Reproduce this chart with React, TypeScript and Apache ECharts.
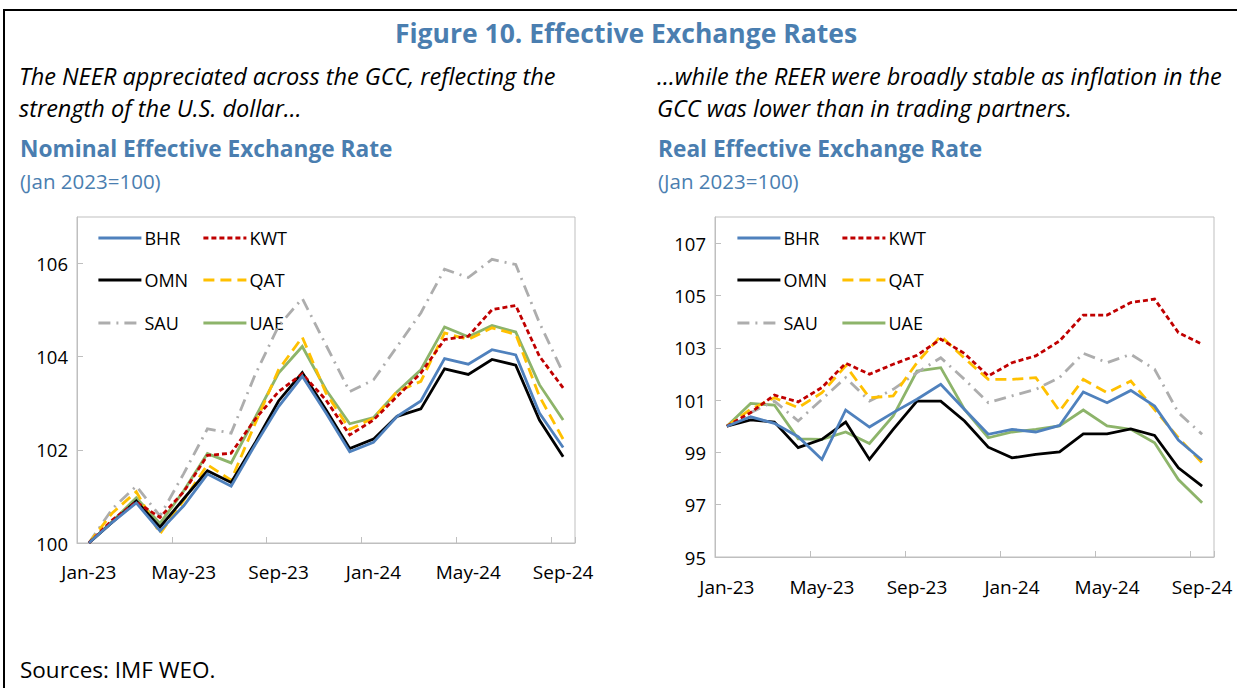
import React, { useEffect, useRef } from 'react';
import * as echarts from 'echarts';

const months = [
  'Jan-23', 'Feb-23', 'Mar-23', 'Apr-23', 'May-23', 'Jun-23', 'Jul-23', 'Aug-23', 'Sep-23', 'Oct-23', 'Nov-23', 'Dec-23',
  'Jan-24', 'Feb-24', 'Mar-24', 'Apr-24', 'May-24', 'Jun-24', 'Jul-24', 'Aug-24', 'Sep-24',
];

const countries = ['BHR', 'KWT', 'OMN', 'QAT', 'SAU', 'UAE'];

// Nominal effective exchange rate (Jan 2023 = 100)
const neerBHR = [100, 100.45, 100.86, 100.26, 100.8, 101.48, 101.22, 102.1, 102.93, 103.58, 102.79, 101.96, 102.16, 102.72, 103.05, 103.96, 103.84, 104.15, 104.04, 102.79, 102.05];
const neerKWT = [100, 100.5, 100.88, 100.55, 101.1, 101.88, 101.93, 102.65, 103.25, 103.63, 103.07, 102.32, 102.64, 103.15, 103.65, 104.37, 104.44, 105.01, 105.1, 104.01, 103.33];
const neerOMN = [100, 100.45, 100.9, 100.34, 100.95, 101.55, 101.3, 102.14, 103.05, 103.66, 102.86, 102.03, 102.23, 102.72, 102.88, 103.74, 103.62, 103.94, 103.82, 102.64, 101.85];
const neerQAT = [100, 100.65, 101.1, 100.2, 100.92, 101.68, 101.35, 102.55, 103.72, 104.42, 103.22, 102.44, 102.68, 103.25, 103.47, 104.51, 104.37, 104.62, 104.48, 103.15, 102.23];
const neerSAU = [100, 100.74, 101.22, 100.58, 101.49, 102.45, 102.36, 103.6, 104.66, 105.25, 104.25, 103.25, 103.5, 104.22, 104.94, 105.88, 105.7, 106.09, 105.98, 104.73, 103.65];
const neerUAE = [100, 100.47, 100.97, 100.42, 101.12, 101.92, 101.72, 102.68, 103.65, 104.22, 103.29, 102.56, 102.69, 103.25, 103.72, 104.64, 104.43, 104.67, 104.53, 103.4, 102.64];

// Real effective exchange rate (Jan 2023 = 100)
const reerBHR = [100, 100.36, 100.11, 99.6, 98.73, 100.62, 99.97, 100.52, 101.03, 101.6, 100.64, 99.69, 99.88, 99.78, 100.03, 101.31, 100.9, 101.37, 100.77, 99.47, 98.7];
const reerKWT = [100, 100.52, 101.19, 100.93, 101.48, 102.41, 101.99, 102.37, 102.71, 103.33, 102.78, 101.92, 102.43, 102.69, 103.26, 104.25, 104.25, 104.73, 104.86, 103.58, 103.14];
const reerOMN = [100, 100.24, 100.16, 99.18, 99.5, 100.16, 98.73, 99.88, 100.96, 100.96, 100.2, 99.2, 98.79, 98.92, 99.02, 99.71, 99.71, 99.9, 99.65, 98.41, 97.71];
const reerQAT = [100, 100.65, 101.09, 100.71, 101.28, 102.31, 101.09, 101.16, 102.43, 103.45, 102.6, 101.79, 101.79, 101.86, 100.58, 101.79, 101.28, 101.73, 100.64, 99.56, 98.6];
const reerSAU = [100, 100.52, 100.96, 100.2, 101.03, 101.86, 100.96, 101.41, 102.05, 102.62, 101.79, 100.9, 101.16, 101.41, 101.86, 102.79, 102.43, 102.75, 102.18, 100.52, 99.69];
const reerUAE = [100, 100.87, 100.81, 99.52, 99.5, 99.78, 99.34, 100.39, 102.11, 102.24, 100.64, 99.56, 99.78, 99.88, 100.01, 100.62, 100.01, 99.88, 99.37, 97.96, 97.07];

const neerData = [neerBHR, neerKWT, neerOMN, neerQAT, neerSAU, neerUAE];
const reerData = [reerBHR, reerKWT, reerOMN, reerQAT, reerSAU, reerUAE];

const neerTicks = { min: 100, max: 107, interval: 2 };
const reerTicks = { min: 95, max: 108, interval: 2 };

const titleText = 'Figure 10. Effective Exchange Rates';
const leftNote = ['The NEER appreciated across the GCC, reflecting the', 'strength of the U.S. dollar…'];
const rightNote = ['…while the REER were broadly stable as inflation in the', 'GCC was lower than in trading partners.'];
const leftTitle = 'Nominal Effective Exchange Rate';
const rightTitle = 'Real Effective Exchange Rate';
const unitText = '(Jan 2023=100)';
const sourceText = 'Sources: IMF WEO.';

const FONT = "'Open Sans', 'Noto Sans', sans-serif";
const BLUE = '#4A7EB0';
const AXIS = '#BFBFBF';
const LINE_W = 2.8;

const styles: Record<string, { color: string; type: any }> = {
  BHR: { color: '#4F81BD', type: 'solid' },
  KWT: { color: '#C00000', type: [5, 3] },
  OMN: { color: '#000000', type: 'solid' },
  QAT: { color: '#FFC000', type: [11, 6] },
  SAU: { color: '#ADADAD', type: [12, 6, 2, 6] },
  UAE: { color: '#8DB46A', type: 'solid' },
};

export default function App() {
  const ref = useRef<HTMLDivElement>(null);
  useEffect(() => {
    document.body.style.margin = '0';
    const chart = echarts.init(ref.current!, null, { renderer: 'svg' });

    const grids = [
      { left: 77, top: 217, width: 498, height: 326 },
      { left: 715, top: 217, width: 499, height: 340 },
    ];
    const ticks = [neerTicks, reerTicks];
    const datasets = [neerData, reerData];
    const labelMargins = [19, 20];

    const series: any[] = [];
    datasets.forEach((ds, g) => {
      ds.forEach((vals, k) => {
        const name = countries[k];
        series.push({
          type: 'line',
          name,
          xAxisIndex: g,
          yAxisIndex: g,
          data: vals,
          symbol: 'none',
          lineStyle: { color: styles[name].color, width: LINE_W, type: styles[name].type, cap: 'butt', join: 'miter' },
          itemStyle: { color: styles[name].color },
          z: 10 - k,
        });
      });
    });

    const legends: any[] = [];
    const legendCols = [[97, 202], [736, 841]];
    const legendRows = [239, 281, 324];
    legendCols.forEach((cols) => {
      countries.forEach((c, k) => {
        legends.push({
          data: [c],
          left: cols[k % 2],
          top: legendRows[Math.floor(k / 2)] - 10,
          padding: 0,
          itemWidth: 43,
          itemHeight: 14,
          selectedMode: false,
          itemStyle: { opacity: 0 },
          lineStyle: { width: LINE_W },
          textStyle: { fontSize: 18, color: '#000', fontFamily: FONT, padding: [0, 0, 0, -2] },
        });
      });
    });

    const txt = (text: string, x: number, y: number, font: string, fill: string, align = 'left') => ({
      type: 'text',
      x,
      y,
      style: { text, font, fill, textAlign: align, textVerticalAlign: 'middle' },
    });

    const graphic: any[] = [
      {
        type: 'rect',
        shape: { x: 4, y: 10, width: 1260, height: 700 },
        style: { fill: 'none', stroke: '#000', lineWidth: 2 },
      },
      txt(titleText, 626, 33, `bold 26.5px ${FONT}`, BLUE, 'center'),
      txt(leftNote[0], 19, 76, `italic 23.5px ${FONT}`, '#000'),
      txt(leftNote[1], 19, 108, `italic 23.5px ${FONT}`, '#000'),
      txt(rightNote[0], 657, 76, `italic 23.5px ${FONT}`, '#000'),
      txt(rightNote[1], 657, 108, `italic 23.5px ${FONT}`, '#000'),
      txt(leftTitle, 20, 148, `bold 22.7px ${FONT}`, BLUE),
      txt(rightTitle, 658, 148, `bold 22.7px ${FONT}`, BLUE),
      txt(unitText, 20, 181, `20.5px ${FONT}`, BLUE),
      txt(unitText, 658, 181, `20.5px ${FONT}`, BLUE),
      txt(sourceText, 20, 669, `22.5px ${FONT}`, '#000'),
    ];

    chart.setOption({
      animation: false,
      backgroundColor: '#fff',
      grid: grids.map((g) => ({ ...g, show: true, borderColor: AXIS, borderWidth: 1, backgroundColor: 'transparent' })),
      xAxis: grids.map((_, g) => ({
        type: 'category',
        gridIndex: g,
        data: months,
        boundaryGap: true,
        axisLine: { show: true, lineStyle: { color: AXIS, width: 1 } },
        axisTick: { show: true, inside: true, interval: 3, length: 6, lineStyle: { color: AXIS } },
        axisLabel: { interval: 3, color: '#000', fontSize: 19, fontFamily: FONT, margin: labelMargins[g] },
        splitLine: { show: false },
      })),
      yAxis: grids.map((_, g) => ({
        type: 'value',
        gridIndex: g,
        min: ticks[g].min,
        max: ticks[g].max,
        interval: ticks[g].interval,
        axisLine: { show: true, lineStyle: { color: AXIS, width: 1 } },
        axisTick: { show: true, inside: true, length: 6, lineStyle: { color: AXIS } },
        axisLabel: { color: '#000', fontSize: 18.5, fontFamily: FONT, margin: 9, showMaxLabel: false },
        splitLine: { show: false },
      })),
      legend: legends,
      series,
      graphic,
    });
    return () => chart.dispose();
  }, []);
  return <div ref={ref} style={{ width: 1237, height: 688 }} />;
}
